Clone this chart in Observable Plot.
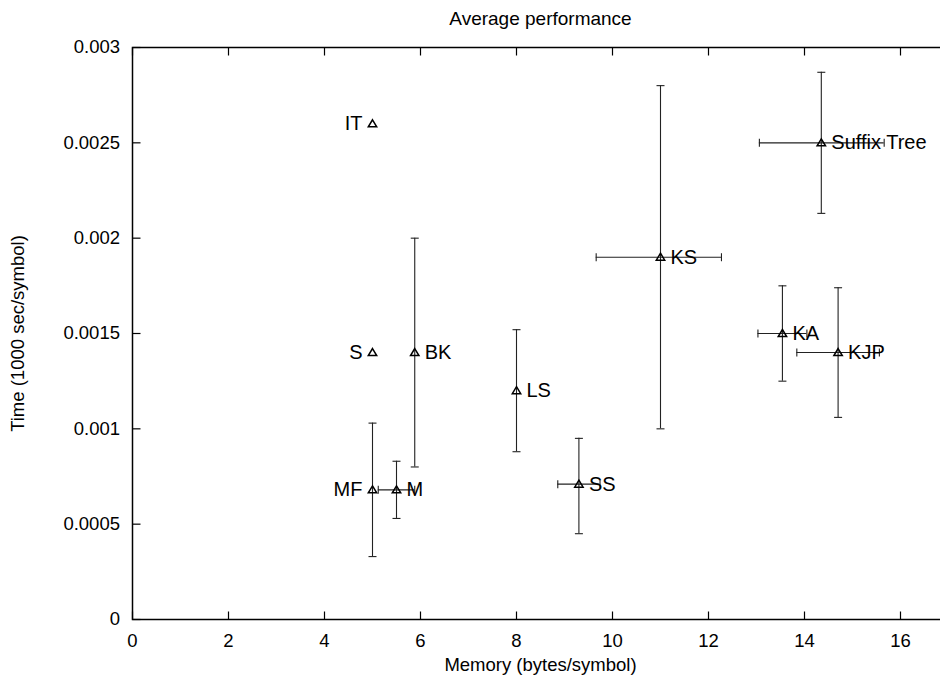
<!DOCTYPE html>
<html>
<head>
<meta charset="utf-8">
<script src="https://cdn.jsdelivr.net/npm/d3@7"></script>
<script src="https://cdn.jsdelivr.net/npm/@observablehq/plot@0.6"></script>
<style>
  html, body { margin: 0; padding: 0; background: #fff; overflow: hidden; }
  #wrap { width: 940px; height: 677px; overflow: hidden; }
  #wrap svg { max-width: none !important; width: 948px !important; height: 677px !important; display: block; }
</style>
</head>
<body>
<div id="wrap"></div>
<script>
// ---- data ----
const names    = ["IT", "S", "BK", "MF", "M", "LS", "SS", "KS", "Suffix Tree", "KA", "KJP"];
const memory   = [5.0, 5.0, 5.88, 5.0, 5.5, 8.0, 9.3, 11.0, 14.35, 13.54, 14.7];
const time     = [0.0026, 0.0014, 0.0014, 0.00068, 0.00068, 0.0012, 0.00071, 0.0019, 0.0025, 0.0015, 0.0014];
const timeLow  = [null, null, 0.0008, 0.00033, 0.00053, 0.00088, 0.00045, 0.001, 0.00213, 0.00125, 0.00106];
const timeHigh = [null, null, 0.002, 0.00103, 0.00083, 0.00152, 0.00095, 0.0028, 0.00287, 0.00175, 0.00174];
const memLow   = [null, null, null, null, 5.12, null, 8.86, 9.66, 13.06, 13.03, 13.84];
const memHigh  = [null, null, null, null, 5.88, null, 9.74, 12.27, 15.66, 14.05, 15.56];
const labelSide = ["left", "left", "right", "left", "right", "right", "right", "right", "right", "right", "right"];

const xTicks = [0, 2, 4, 6, 8, 10, 12, 14, 16];
const yTicks = [0, 0.0005, 0.001, 0.0015, 0.002, 0.0025, 0.003];
const yTickLabels = ["0", "0.0005", "0.001", "0.0015", "0.002", "0.0025", "0.003"];

const titleText = "Average performance";
const xLabel = "Memory (bytes/symbol)";
const yLabel = "Time (1000 sec/symbol)";

// ---- table built from arrays ----
const rows = names.map((n, i) => ({
  name: n, x: memory[i], y: time[i],
  ylo: timeLow[i], yhi: timeHigh[i], xlo: memLow[i], xhi: memHigh[i],
  side: labelSide[i]
}));
const yErr = rows.filter(d => d.ylo != null);
const xErr = rows.filter(d => d.xlo != null);
const leftLab = rows.filter(d => d.side === "left");
const rightLab = rows.filter(d => d.side === "right");

// ---- custom symbols ----
const capH = {draw(c) { c.moveTo(-4, 0); c.lineTo(4, 0); }};
const capV = {draw(c) { c.moveTo(0, -4); c.lineTo(0, 4); }};
const tri = {draw(c) { c.moveTo(0, -4); c.lineTo(4.2, 3); c.lineTo(-4.2, 3); c.closePath(); }};
const tickUp = {draw(c) { c.moveTo(0, 0); c.lineTo(0, -8); }};
const tickDown = {draw(c) { c.moveTo(0, 0); c.lineTo(0, 8); }};
const tickRight = {draw(c) { c.moveTo(0, 0); c.lineTo(8, 0); }};
const tickLeft = {draw(c) { c.moveTo(0, 0); c.lineTo(-8, 0); }};

const xDomain = [0, 17];
const yDomain = [0, 0.003];
const FONT = "'Liberation Sans', Arial, Helvetica, sans-serif";

const chart = Plot.plot({
  width: 948,
  height: 677,
  marginLeft: 132,
  marginRight: 0,
  marginTop: 47,
  marginBottom: 58,
  style: {fontSize: "18px", fontFamily: FONT, color: "black", background: "white", maxWidth: "none"},
  x: {domain: xDomain},
  y: {domain: yDomain},
  marks: [
    Plot.frame({stroke: "black", strokeWidth: 1.5}),
    Plot.axisX({ticks: xTicks, tickSize: 0, tickPadding: 14, label: null, fontSize: 18.5}),
    Plot.axisY({ticks: yTicks, tickSize: 0, tickPadding: 12.5, label: null, fontSize: 18.5,
      tickFormat: d => yTickLabels[yTicks.indexOf(d)]}),
    // inward ticks (bottom, top, left, right)
    Plot.dot(xTicks, {x: d => d, y: () => yDomain[0], symbol: tickUp, stroke: "black", strokeWidth: 1.2}),
    Plot.dot(xTicks, {x: d => d, y: () => yDomain[1], symbol: tickDown, stroke: "black", strokeWidth: 1.2}),
    Plot.dot(yTicks, {y: d => d, x: () => xDomain[0], symbol: tickRight, stroke: "black", strokeWidth: 1.2}),
    Plot.dot(yTicks, {y: d => d, x: () => xDomain[1], symbol: tickLeft, stroke: "black", strokeWidth: 1.2}),
    // error bars
    Plot.ruleX(yErr, {x: "x", y1: "ylo", y2: "yhi", stroke: "#222", strokeWidth: 1.1}),
    Plot.dot(yErr, {x: "x", y: "ylo", symbol: capH, stroke: "#222", strokeWidth: 1.1}),
    Plot.dot(yErr, {x: "x", y: "yhi", symbol: capH, stroke: "#222", strokeWidth: 1.1}),
    Plot.ruleY(xErr, {y: "y", x1: "xlo", x2: "xhi", stroke: "#222", strokeWidth: 1.1}),
    Plot.dot(xErr, {x: "xlo", y: "y", symbol: capV, stroke: "#222", strokeWidth: 1.1}),
    Plot.dot(xErr, {x: "xhi", y: "y", symbol: capV, stroke: "#222", strokeWidth: 1.1}),
    // points
    Plot.dot(rows, {x: "x", y: "y", symbol: tri, stroke: "black", fill: "none", strokeWidth: 1.5}),
    // labels
    Plot.text(rightLab, {x: "x", y: "y", text: "name", textAnchor: "start", dx: 10, fontSize: 20, fill: "black"}),
    Plot.text(leftLab, {x: "x", y: "y", text: "name", textAnchor: "end", dx: -10, fontSize: 20, fill: "black"}),
    // title and axis labels
    Plot.text([titleText], {frameAnchor: "top", dy: -29, lineAnchor: "middle", textAnchor: "middle", text: d => d, fontSize: 19, fill: "black"}),
    Plot.text([xLabel], {frameAnchor: "bottom", dy: 46, lineAnchor: "middle", textAnchor: "middle", text: d => d, fontSize: 18.5, fill: "black"}),
    Plot.text([yLabel], {frameAnchor: "left", dx: -114, rotate: -90, lineAnchor: "middle", textAnchor: "middle", text: d => d, fontSize: 18.5, fill: "black"})
  ]
});
document.getElementById("wrap").appendChild(chart);
</script>
</body>
</html>
